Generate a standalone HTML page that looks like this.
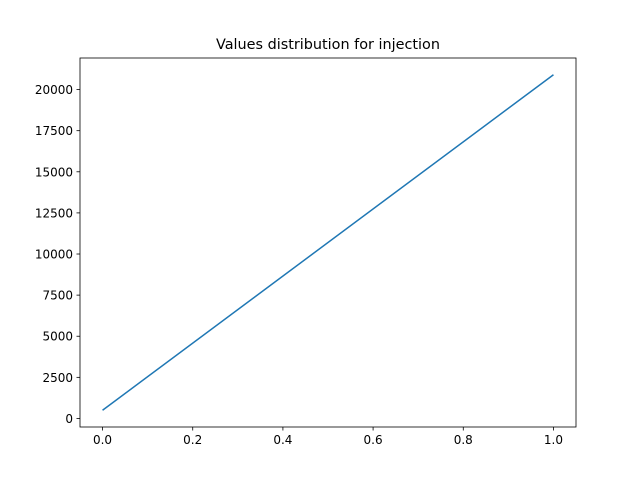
<!DOCTYPE html>
<html><head><meta charset="utf-8"><style>
body{margin:0;background:#fff;}
svg text{font-family:"DejaVu Sans","Liberation Sans",sans-serif;}
</style></head>
<body>
<svg id="chart" width="640" height="480">
<rect width="640" height="480" fill="#fff"/>
<text x="328" y="49" text-anchor="middle" font-size="14.4">Values distribution for injection</text>
<g id="xticks"></g>
<g id="yticks"></g>
<polyline id="line" fill="none" stroke="#1f77b4" stroke-width="1.5"/>
<rect x="80" y="58" width="496" height="369" fill="none" stroke="#000" stroke-width="0.8"/>
</svg>
<script>
const xValues=[0,1];
const yValues=[500,20900];
const xTicks=[0,0.2,0.4,0.6,0.8,1.0];
const xTickLabels=["0.0","0.2","0.4","0.6","0.8","1.0"];
const yTicks=[0,2500,5000,7500,10000,12500,15000,17500,20000];
const yTickLabels=["0","2500","5000","7500","10000","12500","15000","17500","20000"];
const L=80,R=576,T=58,B=427;
const xmin=-0.05,xmax=1.05;
const yr=yValues[1]-yValues[0];
const ymin=Math.min(...yValues)-0.05*(Math.max(...yValues)-Math.min(...yValues));
const ymax=Math.max(...yValues)+0.05*(Math.max(...yValues)-Math.min(...yValues));
const sx=v=>L+(v-xmin)/(xmax-xmin)*(R-L);
const sy=v=>B-(v-ymin)/(ymax-ymin)*(B-T);
const NS="http://www.w3.org/2000/svg";
const xg=document.getElementById('xticks'),yg=document.getElementById('yticks');
xTicks.forEach((t,i)=>{
 const l=document.createElementNS(NS,'line');
 l.setAttribute('x1',sx(t));l.setAttribute('x2',sx(t));l.setAttribute('y1',B);l.setAttribute('y2',B+3.5);
 l.setAttribute('stroke','#000');l.setAttribute('stroke-width','0.8');
 
 
 xg.appendChild(l);
 const tx=document.createElementNS(NS,'text');
 tx.setAttribute('x',sx(t));tx.setAttribute('y',B+17);tx.setAttribute('text-anchor','middle');tx.setAttribute('font-size','12');
 tx.textContent=xTickLabels[i];
 
 
 xg.appendChild(tx);
});
yTicks.forEach((t,i)=>{
 const l=document.createElementNS(NS,'line');
 l.setAttribute('x1',L-3.5);l.setAttribute('x2',L);l.setAttribute('y1',sy(t));l.setAttribute('y2',sy(t));
 l.setAttribute('stroke','#000');l.setAttribute('stroke-width','0.8');
 
 
 yg.appendChild(l);
 const tx=document.createElementNS(NS,'text');
 tx.setAttribute('x',L-7);tx.setAttribute('y',sy(t)+4.5);tx.setAttribute('text-anchor','end');tx.setAttribute('font-size','12');
 tx.textContent=yTickLabels[i];
 
 
 yg.appendChild(tx);
});
document.getElementById('line').setAttribute('points',xValues.map((x,i)=>sx(x)+','+sy(yValues[i])).join(' '));
</script>
</body></html>
